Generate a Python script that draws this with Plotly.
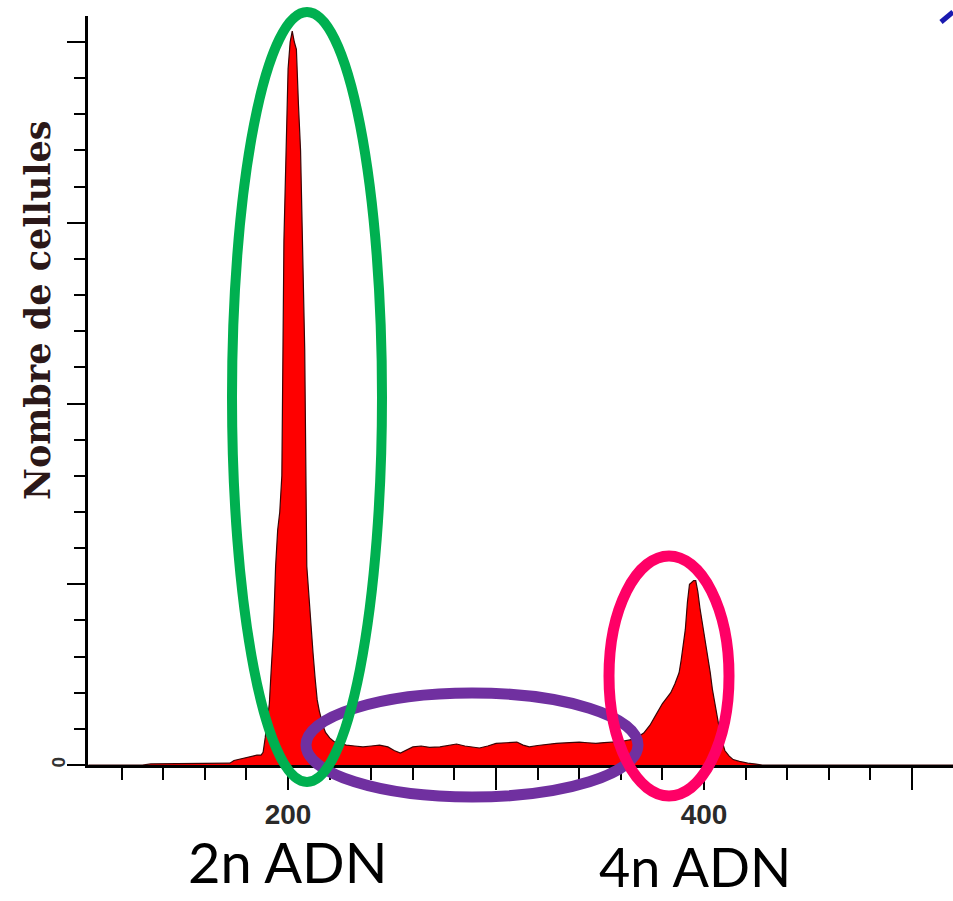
import plotly.graph_objects as go

# ---- data (DNA content channel vs number of cells) ----
dna_content = [104, 130, 134, 150, 165, 172, 174, 178, 182, 185, 187,
               188, 189, 190, 191, 192, 193, 194, 195, 196, 197, 198, 199, 200,
               201, 202, 203, 204, 205, 206, 207, 208, 209, 210, 211, 212, 213,
               214, 215, 216, 217, 218, 220, 222, 225, 228, 232, 236, 240, 244,
               248, 251, 254, 257, 260, 264, 268, 273, 277, 281, 285, 289, 292,
               296, 300, 305, 310, 313, 316, 320, 325, 329, 333, 337, 340, 344,
               348, 352, 356, 360, 365, 368, 371, 374, 377, 380, 382, 384, 386,
               388, 389, 390, 391, 392, 393, 394, 395, 396, 397, 398, 399, 400,
               401, 402, 403, 404, 405, 406, 407, 408, 409, 410, 412, 414, 417,
               421, 425, 428, 520]
cell_count = [0, 0, 0.6, 0.8, 0.7, 1, 2.5, 3.5, 4.5, 5.5, 5.5,
              7, 15, 25, 34, 55, 75, 110, 130, 140, 160, 290, 340, 385,
              400, 406, 400, 396, 365, 340, 285, 230, 110, 92, 76, 62, 48,
              36, 30, 25, 21, 18, 15, 13, 12, 11, 10.5, 10, 10.5, 11,
              10, 8, 6.6, 8.5, 10, 10.5, 9.8, 10, 11, 11.6, 10.5, 10, 9.4,
              10.5, 12, 12.3, 12.7, 11, 10, 10.8, 11.5, 12, 12.2, 12.5, 12.7, 12.3,
              12, 12.4, 12.7, 13, 14, 15.5, 17.7, 22, 28, 34, 37, 40, 45,
              51, 58, 68, 75, 90, 100, 101, 102, 102, 96, 87, 80, 72,
              66, 58, 51, 42, 35, 28, 21, 16, 12, 8, 5, 3, 2,
              1, 0.5, 0, 0]

x_tick_values = [200, 300, 400, 500]
x_tick_labels = ["200", "", "400", ""]
y_tick_values = [0, 100, 200, 300, 400]
y_tick_labels = ["0", "", "", "", ""]

y_title = "Nombre de cellules"
label_2n = "2n ADN"
label_4n = "4n ADN"

W, H = 953, 901
L, R, T, B = 88, 0, 16, 136
PW, PH = W - L - R, H - T - B


def px(xp):
    return (xp - L) / PW


def py(yp):
    return (H - B - yp) / PH


fig = go.Figure()
fig.add_trace(go.Scatter(
    x=dna_content, y=cell_count, mode="lines", fill="tozeroy",
    fillcolor="#FF0000", line=dict(color="#3a0505", width=1.2),
    hoverinfo="x+y", showlegend=False,
))

tick_font_x = dict(family="Liberation Sans, Arial", size=28, color="#2a2a2a", weight="bold")

fig.update_layout(
    width=W, height=H,
    margin=dict(l=L, r=R, t=T, b=B, pad=0),
    paper_bgcolor="white", plot_bgcolor="white",
    showlegend=False,
    xaxis=dict(
        range=[103.8, 519.7], tickmode="array", tickvals=x_tick_values,
        ticktext=x_tick_labels, ticks="outside", ticklen=22, tickwidth=2,
        tickcolor="black", showline=True, linewidth=2.5, linecolor="black",
        showgrid=False, zeroline=False, tickfont=tick_font_x,
        ticklabelstandoff=1,
        minor=dict(tickmode="linear", tick0=0, dtick=20, ticks="outside",
                   ticklen=12, tickwidth=2, tickcolor="black", showgrid=False),
    ),
    yaxis=dict(
        range=[0, 414.4], tickmode="array", tickvals=y_tick_values,
        ticktext=y_tick_labels, ticks="outside", ticklen=18, tickwidth=2,
        tickcolor="black", showline=True, linewidth=3, linecolor="black",
        showgrid=False, zeroline=False, tickangle=-90,
        ticklabelstandoff=-6,
        tickfont=dict(family="Liberation Sans, Arial", size=19, color="#333", weight="bold"),
        minor=dict(tickmode="linear", tick0=0, dtick=20, ticks="outside",
                   ticklen=11, tickwidth=2, tickcolor="black", showgrid=False),
    ),
)

# axis title (rotated, serif bold)
fig.add_annotation(
    text=y_title, xref="paper", yref="paper", x=px(37), y=py(310),
    xanchor="center", yanchor="middle", textangle=-90, showarrow=False,
    font=dict(family="DejaVu Serif", size=35, color="#2b1818", weight="bold"),
)

# ellipses highlighting the populations
ellipses = [
    (306, 638, 693, 797, "#7030A0", 11),   # S phase
    (232, 382, 12, 782, "#00B050", 10),    # 2n
    (609, 729, 556, 796, "#FF0066", 11),   # 4n
]
for x0, x1, y0, y1, col, w in ellipses:
    fig.add_shape(type="circle", xref="paper", yref="paper",
                  x0=px(x0), x1=px(x1), y0=py(y1), y1=py(y0),
                  line=dict(color=col, width=w), fillcolor="rgba(0,0,0,0)",
                  layer="above")

# small blue stroke at the top right corner
fig.add_shape(type="line", xref="paper", yref="paper",
              x0=px(941), y0=py(22), x1=px(953), y1=py(12),
              line=dict(color="#1a1ab0", width=5))

for txt, xc, yc, fs in [(label_2n, 287, 861, 56), (label_4n, 695, 866, 54)]:
    fig.add_annotation(
        text=txt, xref="paper", yref="paper", x=px(xc), y=py(yc),
        xanchor="center", yanchor="middle", showarrow=False,
        font=dict(family="Lato", size=fs, color="black"),
    )

fig.write_html(
    "out.html",
    config={"displayModeBar": False},
    post_script="document.body.style.margin='0';document.body.style.overflow='hidden';",
)
